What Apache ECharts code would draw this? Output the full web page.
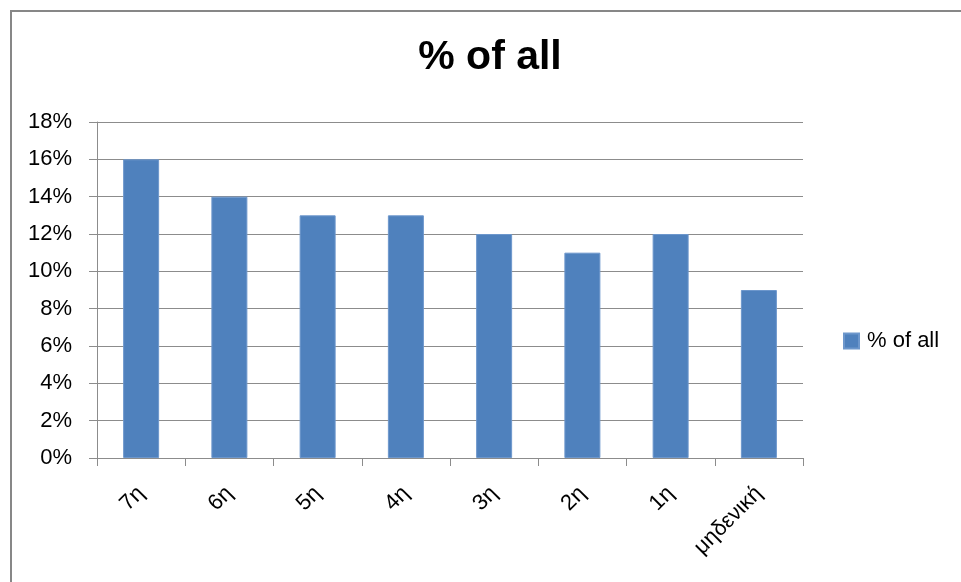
<!DOCTYPE html>
<html>
<head>
<meta charset="utf-8">
<script src="https://cdn.jsdelivr.net/npm/echarts@6/dist/echarts.min.js"></script>
<style>
  html, body { margin: 0; padding: 0; background: #fff; }
  #chart { width: 961px; height: 582px; }
</style>
</head>
<body>
<div id="chart"></div>
<script>
// Share of all, by category (percent)
const categories = ['7η', '6η', '5η', '4η', '3η', '2η', '1η', 'μηδενική'];
const shareValues = [16, 14, 13, 13, 12, 11, 12, 9];
const seriesName = '% of all';
const titleText = '% of all';

const FONT = '"Liberation Sans", Arial, sans-serif';
const GRID_GRAY = '#8c8c8c';

const chart = echarts.init(document.getElementById('chart'), null, { renderer: 'canvas' });
chart.setOption({
  backgroundColor: '#ffffff',
  animation: false,
  graphic: [{
    type: 'rect',
    shape: { x: 11, y: 11, width: 1000, height: 1000 },
    style: { fill: 'none', stroke: '#878787', lineWidth: 2 },
    silent: true
  }],
  title: {
    text: titleText,
    left: 490,
    textAlign: 'center',
    top: 37,
    padding: 0,
    textStyle: { fontFamily: FONT, fontSize: 41, fontWeight: 'bold', color: '#000' }
  },
  legend: {
    data: [seriesName],
    orient: 'vertical',
    left: 843,
    top: 330,
    padding: 0,
    icon: 'rect',
    itemWidth: 15,
    itemHeight: 15,
    itemGap: 6,
    textStyle: { fontFamily: FONT, fontSize: 22, color: '#000', padding: [0, 0, 0, 3] }
  },
  grid: { left: 97, right: 158, top: 122, bottom: 124, containLabel: false },
  xAxis: {
    type: 'category',
    data: categories,
    axisLine: { lineStyle: { color: GRID_GRAY, width: 1 } },
    axisTick: { show: true, length: 8, lineStyle: { color: GRID_GRAY } },
    axisLabel: {
      rotate: 45,
      interval: 0,
      margin: 32,
      fontFamily: FONT,
      fontSize: 22,
      color: '#000'
    }
  },
  yAxis: {
    type: 'value',
    min: 0,
    max: 18,
    interval: 2,
    axisLine: { show: true, lineStyle: { color: GRID_GRAY, width: 1 } },
    axisTick: { show: true, length: 8, lineStyle: { color: GRID_GRAY } },
    splitLine: { show: true, lineStyle: { color: GRID_GRAY, width: 1 } },
    axisLabel: {
      formatter: '{value}%',
      margin: 25,
      fontFamily: FONT,
      fontSize: 22,
      color: '#000'
    }
  },
  series: [{
    name: seriesName,
    type: 'bar',
    data: shareValues,
    barWidth: 36,
    itemStyle: { color: '#4f81bd', borderColor: '#6d97cc', borderWidth: 1 }
  }]
});
</script>
</body>
</html>
